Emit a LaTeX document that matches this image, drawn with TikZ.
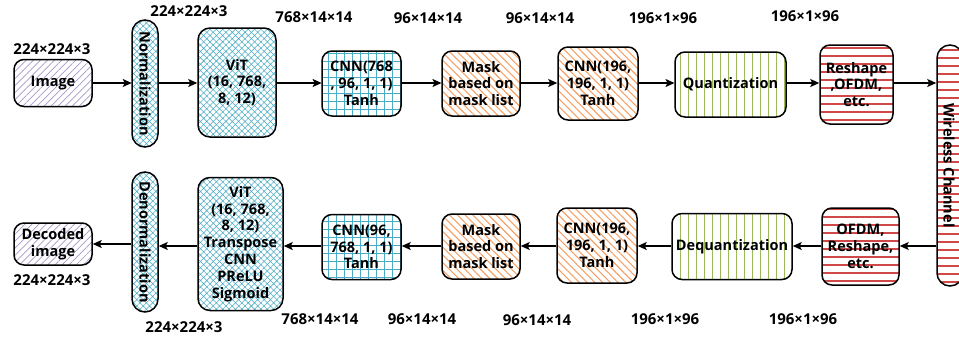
\documentclass[tikz,border=0pt]{standalone}
\usepackage{fontspec}
\setmainfont{Open Sans}
\usetikzlibrary{patterns.meta,arrows.meta}
\definecolor{cpurple}{HTML}{A597C9}
\definecolor{cteal}{HTML}{4BACC6}
\definecolor{corange}{HTML}{F4A064}
\definecolor{cgreen}{HTML}{9BBB59}
\definecolor{cred}{HTML}{D04848}
\tikzset{
  every node/.style={font=\fontsize{14.5}{16.8}\selectfont\bfseries, align=center, inner sep=0pt},
  box/.style={draw=black, line width=1.5pt, rounded corners=10pt},
  pill/.style={draw=black, line width=1.5pt, rounded corners=13pt, minimum width=26pt},
  lbl/.style={font=\fontsize{15}{17}\selectfont\bfseries},
  pimg/.style={pattern={Lines[angle=45,distance=5pt,line width=0.7pt]}, pattern color=cpurple},
  pcross/.style={pattern={Hatch[angle=45,distance=4.5pt,line width=0.55pt]}, pattern color=cteal},
  pgrid/.style={pattern={Hatch[angle=0,distance=8pt,line width=0.7pt]}, pattern color=cteal},
  porange/.style={pattern={Lines[angle=-45,distance=5.5pt,line width=1.1pt]}, pattern color=corange},
  pgreen/.style={pattern={Lines[angle=90,distance=8pt,line width=1pt]}, pattern color=cgreen},
  pred/.style={path picture={
      \foreach \k in {0,...,40}
        \path[sharp corners, fill=cred, draw=none]
          ([yshift=\k*8pt+3.5pt]path picture bounding box.south west) rectangle
          ([yshift=\k*8pt+5.5pt]path picture bounding box.south east);}},
  arr/.style={-{Stealth[length=9pt,width=8pt,inset=2pt]}, line width=1.5pt},
}
\begin{document}
\begin{tikzpicture}[x=1pt,y=-1pt]
\useasboundingbox (0,0) rectangle (959,341);
% ---------- top row ----------
\node[box,pimg,minimum width=78pt,minimum height=47pt] (img) at (53,83) {Image};
\node[pill,pcross,minimum height=127pt] (norm) at (145,83.5) {};
\node[rotate=-90] (normt) at (norm.center) {Normalization};
\node[box,pcross,rounded corners=12pt,minimum width=78pt,minimum height=109pt] (vit) at (237,82.5) {ViT\\(16, 768,\\8, 12)};
\node[box,pgrid,minimum width=79pt,minimum height=65pt] (cnna) at (361.5,83.5) {CNN(768\\, 96, 1, 1)\\Tanh};
\node[box,porange,minimum width=78pt,minimum height=65pt] (maska) at (481,83.5) {Mask\\based on\\mask list};
\node[box,porange,minimum width=80pt,minimum height=73pt] (cnnb) at (598,83.5) {CNN(196,\\196, 1, 1)\\Tanh};
\node[box,pgreen,minimum width=111pt,minimum height=65pt] (quant) at (730.5,84.5) {Quantization};
\node[box,pred,minimum width=73pt,minimum height=79pt] (resh) at (856.5,84.5) {Reshape\\,OFDM,\\etc.};
\node[pill,pred,minimum height=241pt] (wc) at (950,165.5) {};
\node[rotate=-90] (wct) at (949,165.5) {Wireless Channel};
% ---------- bottom row ----------
\node[box,pred,minimum width=77pt,minimum height=77pt] (ofdm) at (860.5,246.5) {OFDM,\\Reshape,\\etc.};
\node[box,pimg,minimum width=78pt,minimum height=42pt] (dec) at (53,244) {Decoded\\image};
\node[pill,pcross,minimum height=140pt] (denorm) at (145,242) {};
\node[rotate=-90] (denormt) at (denorm.center) {Denormalization};
\node[box,pcross,rounded corners=12pt,minimum width=85pt,minimum height=133pt] (vitb) at (240.5,244) {ViT\\(16, 768,\\8, 12)\\Transpose\\CNN\\PReLU\\Sigmoid};
\node[box,pgrid,minimum width=79pt,minimum height=65pt] (cnnc) at (361.5,247) {CNN(96,\\768, 1, 1)\\Tanh};
\node[box,porange,minimum width=78pt,minimum height=65pt] (maskb) at (481,246.5) {Mask\\based on\\mask list};
\node[box,porange,minimum width=80pt,minimum height=75pt] (cnnd) at (597,245.5) {CNN(196,\\196, 1, 1)\\Tanh};
\node[box,pgreen,minimum width=120pt,minimum height=66pt] (deq) at (732,246.5) {Dequantization};
% ---------- arrows ----------
\draw[arr] (img.east) -- (img.east -| norm.west);
\draw[arr] (norm.east |- img.east) -- (norm.east |- img.east -| vit.west);
\draw[arr] (vit.east |- img.east) -- (img.east -| cnna.west);
\draw[arr] (cnna.east |- img.east) -- (img.east -| maska.west);
\draw[arr] (maska.east |- img.east) -- (img.east -| cnnb.west);
\draw[arr] (cnnb.east |- img.east) -- (img.east -| quant.west);
\draw[arr] (quant.east |- img.east) -- (img.east -| resh.west);
\draw[arr] (resh.east |- img.east) -- (img.east -| wc.west);
\coordinate (by) at (0,246);
\draw[arr] (wc.west |- by) -- (by -| ofdm.east);
\draw[arr] (ofdm.west |- by) -- (by -| deq.east);
\draw[arr] (deq.west |- by) -- (by -| cnnd.east);
\draw[arr] (cnnd.west |- by) -- (by -| maskb.east);
\draw[arr] (maskb.west |- by) -- (by -| cnnc.east);
\draw[arr] (cnnc.west |- by) -- (by -| vitb.east);
\draw[arr] (vitb.west |- by) -- (by -| denorm.east);
\draw[arr] (denorm.west |- dec.east) -- (dec.east);
% ---------- labels ----------
\node[lbl] (l1) at (52,49) {224×224×3};
\node[lbl] (l2) at (189,11) {224×224×3};
\node[lbl] (l3) at (314,17) {768×14×14};
\node[lbl] (l4) at (428,18) {96×14×14};
\node[lbl] (l5) at (540,18) {96×14×14};
\node[lbl] (l6) at (663,18) {196×1×96};
\node[lbl] (l7) at (805,16) {196×1×96};
\node[lbl] (m1) at (52,280) {224×224×3};
\node[lbl] (m2) at (184,327) {224×224×3};
\node[lbl] (m3) at (320,319) {768×14×14};
\node[lbl] (m4) at (422,319) {96×14×14};
\node[lbl] (m5) at (537,320) {96×14×14};
\node[lbl] (m6) at (665,319) {196×1×96};
\node[lbl] (m7) at (803,319) {196×1×96};
\end{tikzpicture}
\end{document}
